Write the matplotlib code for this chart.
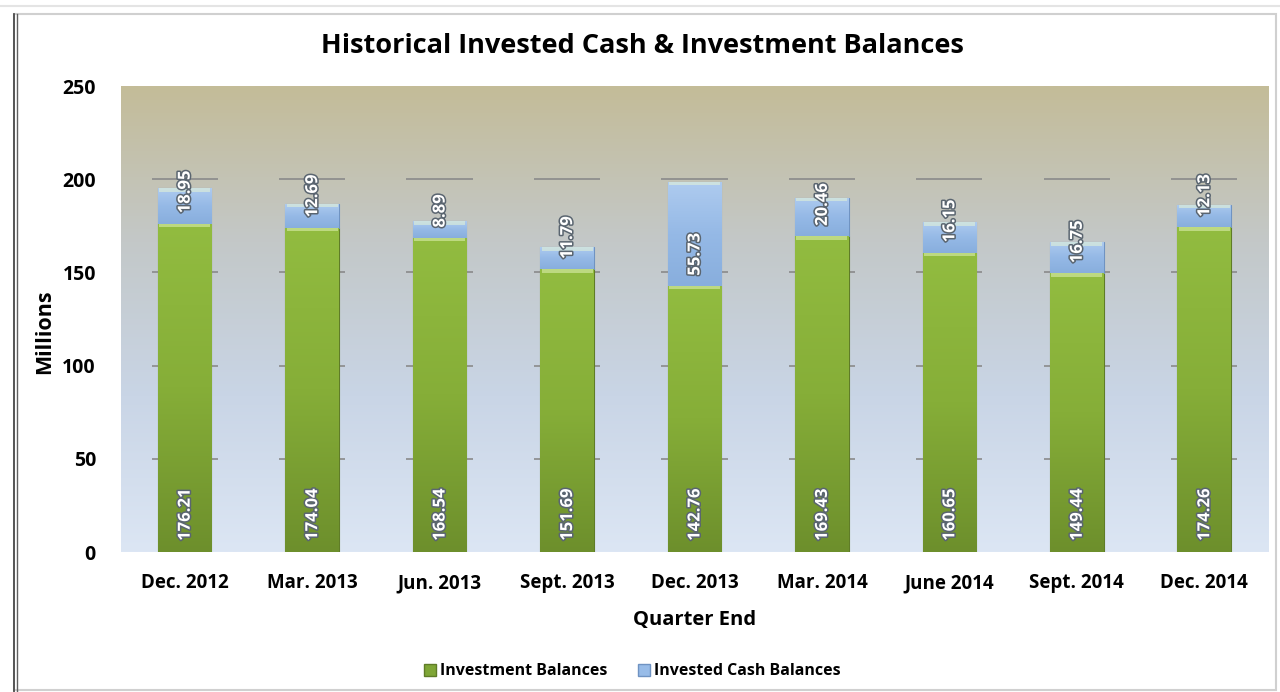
import matplotlib.pyplot as plt
import matplotlib.patheffects as pe
import numpy as np
from matplotlib.patches import Rectangle
from matplotlib.lines import Line2D
from matplotlib.colors import LinearSegmentedColormap

plt.rcParams['font.family'] = ['Open Sans', 'DejaVu Sans']

# --- data ---
quarters = ["Dec. 2012", "Mar. 2013", "Jun. 2013", "Sept. 2013", "Dec. 2013",
            "Mar. 2014", "June 2014", "Sept. 2014", "Dec. 2014"]
investment = [176.21, 174.04, 168.54, 151.69, 142.76, 169.43, 160.65, 149.44, 174.26]
invested_cash = [18.95, 12.69, 8.89, 11.79, 55.73, 20.46, 16.15, 16.75, 12.13]
y_ticks = [0, 50, 100, 150, 200, 250]

fig = plt.figure(figsize=(12.8, 6.92), dpi=100)
ax = fig.add_axes([0.0945, 0.2023, 0.8961, 0.6734])

x = np.arange(len(quarters))
bar_w = 0.42

# --- plot-area gradient: tan at top -> light blue at bottom ---
bg_cmap = LinearSegmentedColormap.from_list(
    "bg", ["#dce6f4", "#c9d5e6", "#c3c8c8", "#c4bc98"])
grad = np.linspace(0, 1, 256).reshape(-1, 1)
ax.imshow(grad, cmap=bg_cmap, origin="lower", aspect="auto",
          extent=[0, 1, 0, 1], transform=ax.transAxes, zorder=0)

# --- short gridline segments behind each bar ---
for yv in y_ticks[1:-1]:
    ax.hlines([yv] * len(x), x - 0.26, x + 0.26, color="#8a8a8a", lw=1.2, zorder=1)

green_cmap = LinearSegmentedColormap.from_list("g", ["#6d8f2c", "#86ae38", "#92bc40"])
blue_cmap = LinearSegmentedColormap.from_list("b", ["#88aedd", "#95b9e6", "#aecbef"])

bars_inv = ax.bar(x, investment, bar_w, color="#88b03a", edgecolor="#5f7c27",
                  lw=0.8, zorder=2)
bars_cash = ax.bar(x, invested_cash, bar_w, bottom=investment, color="#98bce8",
                   edgecolor="#6f93c2", lw=0.8, zorder=2)

# gradient fill clipped to each bar
for bars, cmap in [(bars_inv, green_cmap), (bars_cash, blue_cmap)]:
    for b in bars:
        x0, y0, w, h = b.get_x(), b.get_y(), b.get_width(), b.get_height()
        im = ax.imshow(grad, cmap=cmap, origin="lower", aspect="auto",
                       extent=[x0, x0 + w, y0, y0 + h], zorder=2.5)
        im.set_clip_path(b)
        # bevel highlight strip at top of segment
        ax.add_patch(Rectangle((x0 + 0.01, y0 + h - 1.8), w - 0.02, 1.8,
                               color="#f4ffd0", alpha=0.45, lw=0, zorder=2.6))

halo = [pe.withStroke(linewidth=2.2, foreground="#5a6570")]
for xi, inv, cash in zip(x, investment, invested_cash):
    ax.text(xi, 6.0, f"{inv:.2f}", rotation=90, ha="center", va="bottom",
            color="white", fontsize=12, fontweight="bold", zorder=4, path_effects=halo)
    ax.text(xi, inv + 5.5, f"{cash:.2f}", rotation=90, ha="center", va="bottom",
            color="white", fontsize=12, fontweight="bold", zorder=4, path_effects=halo)

ax.set_xlim(-0.5, len(x) - 0.5)
ax.set_ylim(0, 250)
ax.set_yticks(y_ticks)
ax.set_xticks(x)
ax.set_xticklabels(quarters, fontsize=13.5, fontweight="bold", va="baseline")
ax.tick_params(axis="y", length=0, pad=18, labelsize=14)
ax.tick_params(axis="x", length=0, pad=26)
for lab in ax.get_yticklabels():
    lab.set_fontweight("bold")
for s in ax.spines.values():
    s.set_visible(False)

ax.set_xlabel("Quarter End", fontsize=14.5, fontweight="bold", labelpad=12)
fig.text(0.035, 0.52, "Millions", rotation=90, ha="center", va="center",
         fontsize=15.5, fontweight="bold")
fig.text(0.502, 0.933, "Historical Invested Cash & Investment Balances",
         ha="center", va="center", fontsize=19.5, fontweight="bold")

# --- legend ---
handles = [
    Line2D([], [], marker="s", ls="", markersize=9, markerfacecolor="#7fa636",
           markeredgecolor="#5f7c27", label="Investment Balances"),
    Line2D([], [], marker="s", ls="", markersize=9, markerfacecolor="#98bce8",
           markeredgecolor="#6f93c2", label="Invested Cash Balances"),
]
leg = fig.legend(handles=handles, loc="center", bbox_to_anchor=(0.490, 0.030), ncol=2,
                 frameon=False, handletextpad=-0.4, columnspacing=1.3,
                 prop={"weight": "bold", "size": 11.5})

# --- chart frame ---
fig.add_artist(Rectangle((14 / 1280, 2 / 692), 1262 / 1280, 676 / 692,
                         transform=fig.transFigure, fill=False,
                         edgecolor="#d0d0d0", lw=1.5))
fig.add_artist(Line2D([14 / 1280, 14 / 1280], [0, 678 / 692],
                      transform=fig.transFigure, color="#404040", lw=1.2))
fig.add_artist(Line2D([17 / 1280, 17 / 1280], [0, 678 / 692],
                      transform=fig.transFigure, color="#606060", lw=1.0))
fig.add_artist(Line2D([0, 1], [686 / 692, 686 / 692],
                      transform=fig.transFigure, color="#e4e4e4", lw=1.5))

fig.savefig("out.png", dpi=100)
